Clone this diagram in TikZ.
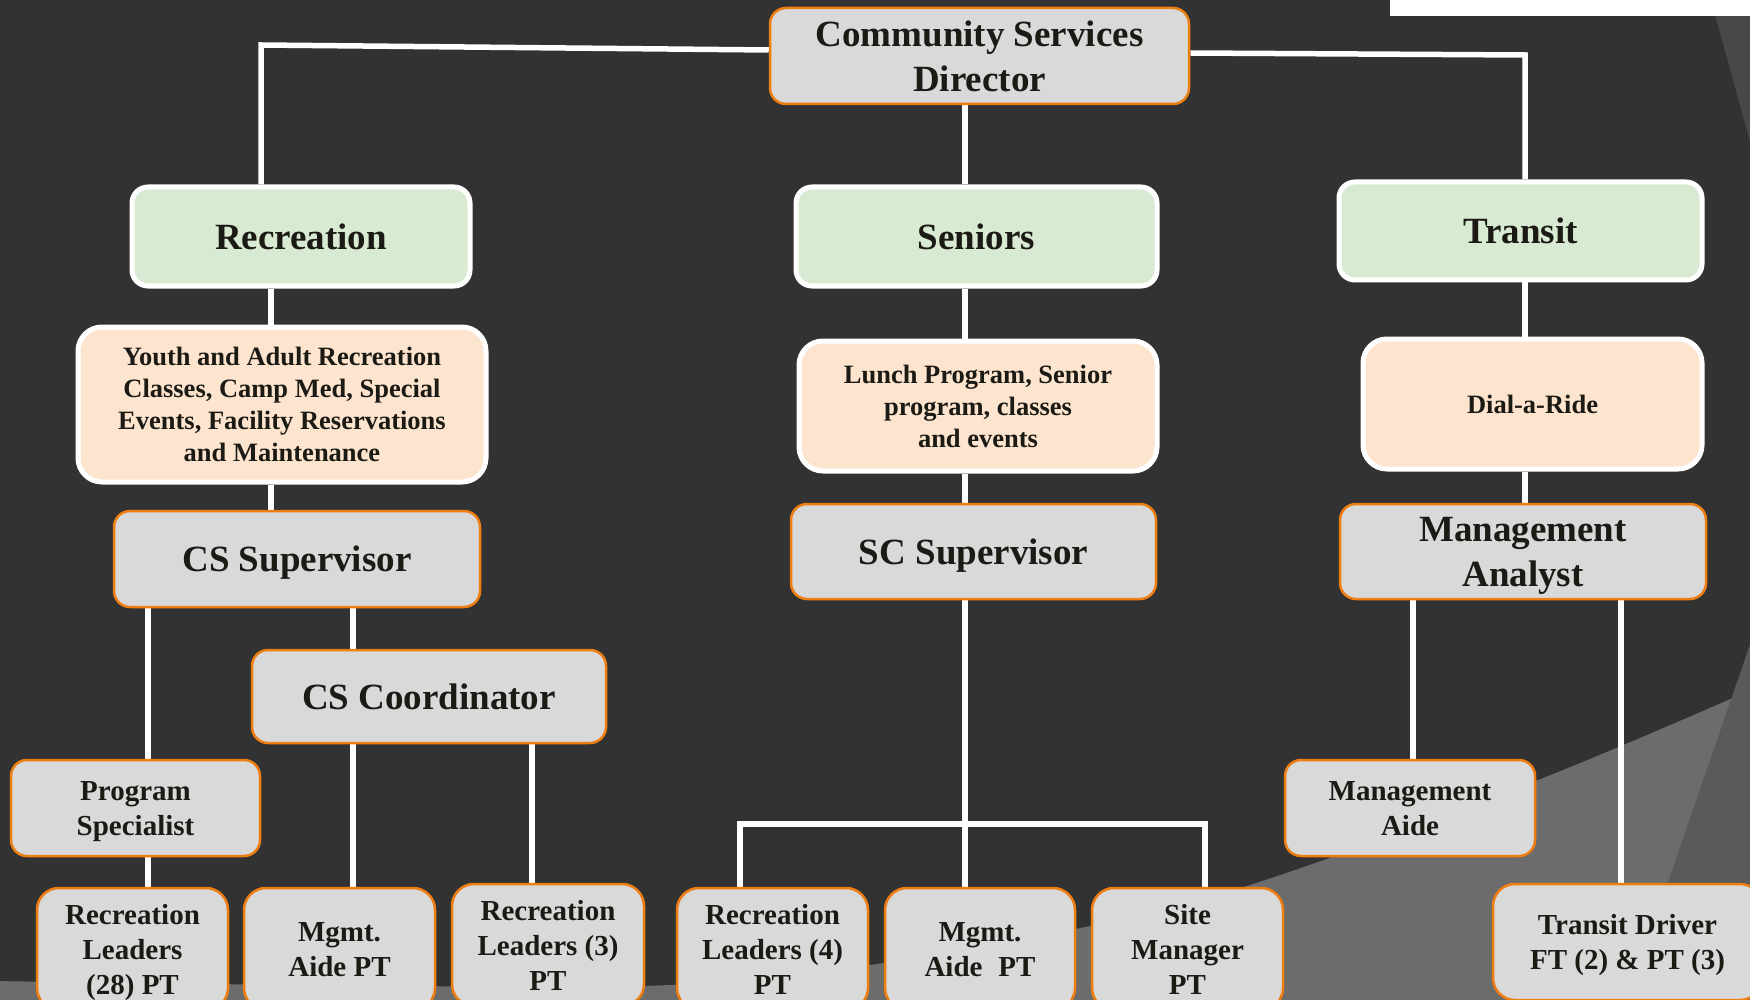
\documentclass[tikz,border=0pt]{standalone}
\usepackage{fontspec}
\setmainfont{Liberation Serif}
\usetikzlibrary{calc}

\definecolor{bgdark}{HTML}{323232}
\definecolor{bgband}{HTML}{6C6C6C}
\definecolor{bgside}{HTML}{5A5A5A}
\definecolor{bgtop}{HTML}{484848}
\definecolor{boxgray}{HTML}{D9D9D9}
\definecolor{edgeorange}{HTML}{EE7D12}
\definecolor{unitgreen}{HTML}{D9EAD3}
\definecolor{dutypeach}{HTML}{FDE4CE}
\definecolor{inkdark}{HTML}{1C1A14}

\pgfdeclarelayer{bg}
\pgfdeclarelayer{lines}
\pgfsetlayers{bg,lines,main}

\tikzset{
  conn/.style={draw=white, line width=2.75pt, line join=miter},
  basebox/.style={rectangle, align=center, inner sep=0pt, text=inkdark, text depth=0pt},
  role/.style={basebox, fill=boxgray, draw=edgeorange, line width=1.25pt, rounded corners=8pt},
  leaf/.style={role, rounded corners=11pt},
  unit/.style={basebox, fill=unitgreen, draw=white, line width=2.5pt, rounded corners=8pt},
  duty/.style={basebox, fill=dutypeach, draw=white, line width=2.5pt, rounded corners=12pt},
  big/.style={font=\fontsize{18.5pt}{22.5pt}\selectfont\bfseries},
  mid/.style={font=\fontsize{14.5pt}{17.5pt}\selectfont\bfseries},
  small/.style={font=\fontsize{13.25pt}{16pt}\selectfont\bfseries},
}

% \orgbox{name}{x1}{y1}{x2}{y2}{style}{text}  -- box given by its corners in pixels
\newcommand{\orgbox}[7]{%
  \node[#6, minimum width={(#4-#2)*0.5pt}, minimum height={(#5-#3)*0.5pt}]
    (#1) at ({(#2+#4)/2},{(#3+#5)/2}) {#7};}

\begin{document}
\begin{tikzpicture}[x=0.5pt,y=-0.5pt]
\useasboundingbox (0,0) rectangle (1750,1000);
\clip (0,0) rectangle (1750,1000);

% backdrop
\begin{pgfonlayer}{bg}
  \fill[bgdark] (0,0) rectangle (1750,1000);
  \fill[bgband] plot[smooth, tension=0.6] coordinates
    {(-10,981) (400,986) (670,985) (870,965) (1071,930) (1250,885) (1533,782) (1760,686)}
    -- (1760,1010) -- (-10,1010) -- cycle;
  \fill[bgside] (1755,630) -- (1667,885) -- (1630,1010) -- (1760,1010) -- cycle;
  \fill[bgtop] (1711,0) -- (1755,0) -- (1755,160) -- cycle;
  \fill[white] (1390,-5) rectangle (1755,16);
\end{pgfonlayer}

% top level
\orgbox{dir}{770}{8}{1189}{104}{role,big}{Community Services\\Director}

% divisions
\orgbox{rec}{132}{187}{470}{286}{unit,big}{Recreation}
\orgbox{sen}{796}{187}{1157}{286}{unit,big}{Seniors}
\orgbox{trn}{1339}{182}{1702}{280}{unit,big}{Transit}

% duties
\orgbox{recduty}{78}{327}{486}{482}{duty,small}{Youth and Adult Recreation\\Classes, Camp Med, Special\\Events, Facility Reservations\\and Maintenance}
\orgbox{senduty}{799}{341}{1157}{471}{duty,small}{Lunch Program, Senior\\program, classes\\and events}
\orgbox{trnduty}{1363}{339}{1702}{469}{duty,small}{Dial-a-Ride}

% supervisors
\orgbox{cssup}{114}{511}{480}{607}{role,big}{CS Supervisor}
\orgbox{scsup}{791}{504}{1156}{599}{role,big}{SC Supervisor}
\orgbox{mgan}{1340}{504}{1706}{599}{role,big}{Management\\Analyst}

% second tier
\orgbox{coord}{252}{650}{606}{743}{role,big}{CS Coordinator}
\orgbox{progsp}{11}{760}{260}{856}{role,mid}{Program\\Specialist}
\orgbox{mgaide}{1285}{760}{1535}{856}{role,mid}{Management\\Aide}

% staff row
\orgbox{rlA}{37}{888}{228}{1010}{leaf,mid}{Recreation\\Leaders\\(28) PT}
\orgbox{maA}{244}{888}{435}{1010}{leaf,mid}{Mgmt.\\Aide PT}
\orgbox{rlB}{452}{884}{644}{1006}{leaf,mid}{Recreation\\Leaders (3)\\PT}
\orgbox{rlC}{677}{888}{868}{1010}{leaf,mid}{Recreation\\Leaders (4)\\PT}
\orgbox{maB}{885}{888}{1075}{1010}{leaf,mid}{Mgmt.\\Aide\hspace{0.55em}PT}
\orgbox{site}{1092}{888}{1283}{1010}{leaf,mid}{Site\\Manager\\PT}
\orgbox{drv}{1493}{884}{1762}{1000}{leaf,mid}{Transit Driver\\FT (2) \& PT (3)}

% connectors
\coordinate (recturn) at (261,45);
\coordinate (trnturn) at (1525,55);
\coordinate (barL) at (740,824);
\coordinate (barR) at (1205,824);
\begin{pgfonlayer}{lines}
  \draw[conn] (dir.west |- 0,50) -- (recturn) -- (recturn |- rec.north);
  \draw[conn] (dir.east |- 0,53) -- (trnturn) -- (trnturn |- trn.north);
  \draw[conn] (965,0 |- dir.south) -- (965,0 |- sen.north);

  \draw[conn] (271,0 |- rec.south) -- (271,0 |- recduty.north);
  \draw[conn] (271,0 |- recduty.south) -- (271,0 |- cssup.north);
  \draw[conn] (965,0 |- sen.south) -- (965,0 |- senduty.north);
  \draw[conn] (965,0 |- senduty.south) -- (965,0 |- scsup.north);
  \draw[conn] (1525,0 |- trn.south) -- (1525,0 |- trnduty.north);
  \draw[conn] (1525,0 |- trnduty.south) -- (1525,0 |- mgan.north);

  \draw[conn] (148,0 |- cssup.south) -- (148,0 |- progsp.north);
  \draw[conn] (353,0 |- cssup.south) -- (353,0 |- coord.north);
  \draw[conn] (148,0 |- progsp.south) -- (148,0 |- rlA.north);
  \draw[conn] (353,0 |- coord.south) -- (353,0 |- maA.north);
  \draw[conn] (532,0 |- coord.south) -- (532,0 |- rlB.north);

  \draw[conn] (965,0 |- scsup.south) -- (965,0 |- maB.north);
  \draw[conn] (barL |- rlC.north) -- (barL) -- (barR) -- (barR |- site.north);

  \draw[conn] (1413,0 |- mgan.south) -- (1413,0 |- mgaide.north);
  \draw[conn] (1621,0 |- mgan.south) -- (1621,0 |- drv.north);
\end{pgfonlayer}
\end{tikzpicture}
\end{document}
